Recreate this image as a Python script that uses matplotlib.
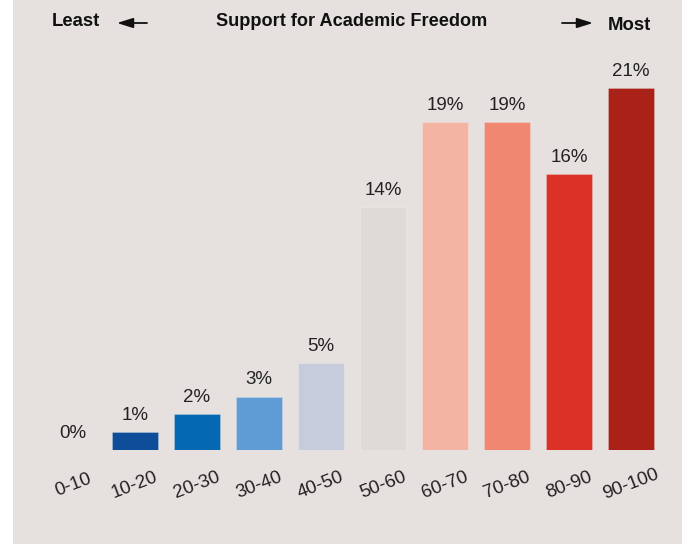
import matplotlib
matplotlib.use("Agg")
import matplotlib.pyplot as plt
from matplotlib.patches import Rectangle, FancyArrowPatch

categories = ["0-10", "10-20", "20-30", "30-40", "40-50",
              "50-60", "60-70", "70-80", "80-90", "90-100"]
values = [0.0, 1.05, 2.1, 3.1, 5.05, 14.1, 19.0, 19.0, 16.0, 21.0]
value_labels = ["0%", "1%", "2%", "3%", "5%", "14%", "19%", "19%", "16%", "21%"]
colors = ["#0e4d9a", "#0e4d9a", "#0468b3", "#5f9bd5", "#c6ccdb",
          "#dedad6", "#f4b4a3", "#f08770", "#db3126", "#aa2117"]

plt.rcParams['font.family'] = ['Liberation Sans', 'DejaVu Sans']

W, H = 682, 544
BG = "#e6e1df"
fig = plt.figure(figsize=(W / 100, H / 100), dpi=100)
fig.patch.set_facecolor("white")
fig.patches.append(Rectangle((13 / W, 0), 1 - 13 / W, 1, transform=fig.transFigure,
                             facecolor=BG, edgecolor="none", zorder=-10))

ax = fig.add_axes([42 / W, 94 / H, 620 / W, 431.25 / H])
ax.set_facecolor("none")
ax.set_xlim(-0.5, 9.5)
ax.set_ylim(0, 25)
ax.axis("off")

x = list(range(len(categories)))
ax.bar(x, values, width=0.73, color=colors, edgecolor=[(1, 1, 1, 0.25)] * len(x),
       linewidth=0.6)

for xi, v, lab in zip(x, values, value_labels):
    ax.annotate(lab, (xi, v), xytext=(0, 12), textcoords="offset points",
                ha="center", va="center", fontsize=13.5, color="#222222")

for xi, cat in zip(x, categories):
    ax.annotate(cat, (xi, 0), xytext=(0, -25), textcoords="offset points",
                ha="center", va="center", rotation=21, rotation_mode="anchor",
                fontsize=13.5, color="#222222")

# header
fig.text(352 / W, 1 - 22 / H, "Support for Academic Freedom", ha="center", va="center",
         fontsize=13.1, fontweight="bold", color="#111111")
fig.text(52 / W, 1 - 22 / H, "Least", ha="left", va="center",
         fontsize=13.3, fontweight="bold", color="#111111")
fig.text(608 / W, 1 - 26 / H, "Most", ha="left", va="center",
         fontsize=13.3, fontweight="bold", color="#111111")
arrow_kw = dict(arrowstyle="-|>,head_length=0.8,head_width=0.25", color="#111111", lw=1.3,
                shrinkA=0, shrinkB=0, mutation_scale=12)
fig.add_artist(FancyArrowPatch((147 / W, 1 - 23 / H), (117 / W, 1 - 23 / H),
                               transform=fig.transFigure, **arrow_kw))
fig.add_artist(FancyArrowPatch((562 / W, 1 - 23 / H), (593 / W, 1 - 23 / H),
                               transform=fig.transFigure, **arrow_kw))

fig.savefig("out.png", dpi=100, facecolor=fig.get_facecolor())
